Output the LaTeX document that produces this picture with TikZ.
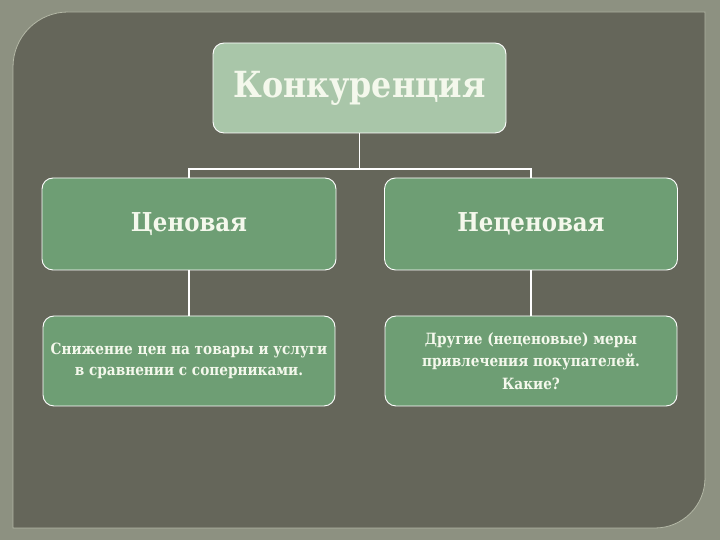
\documentclass[tikz,border=0pt]{standalone}
\usepackage{fontspec}
\setmainfont{DejaVu Serif}[FakeStretch=0.88]
\definecolor{outerbg}{HTML}{8D9181}
\definecolor{panelbg}{HTML}{65665A}
\definecolor{paneledge}{HTML}{B4B8A6}
\definecolor{topfill}{HTML}{A9C6A9}
\definecolor{boxfill}{HTML}{6E9E74}
\definecolor{txt}{HTML}{F4F8EC}
\begin{document}
\begin{tikzpicture}[x=1pt,y=1pt]
\tikzset{
  box/.style={draw=white, line width=0.9pt, rounded corners=11pt, fill=boxfill,
    inner sep=0pt, align=center, text=txt, font=\bfseries},
  conn/.style={draw=white, line width=1.6pt}
}
\fill[outerbg] (0,0) rectangle (720,540);
\useasboundingbox (0,0) rectangle (720,540);
\fill[panelbg, draw=paneledge, line width=0.8pt]
  (13,12) -- (13,473) arc[start angle=180, end angle=90, radius=55]
  -- (705,528) -- (705,62) arc[start angle=0, end angle=-90, radius=50] -- cycle;
\node[box, fill=topfill, minimum width=293pt, minimum height=90pt,
  font=\bfseries\fontsize{36}{40}\selectfont] (top) at (359.5,452) {Конкуренция};
\node[box, minimum width=294pt, minimum height=92pt,
  font=\bfseries\fontsize{26}{31}\selectfont] (midL) at (189,316) {Ценовая};
\node[box, minimum width=293pt, minimum height=92pt,
  font=\bfseries\fontsize{26}{31}\selectfont] (midR) at (531,316) {Неценовая};
\node[box, minimum width=292pt, minimum height=90pt,
  font=\bfseries\fontsize{15.5}{21.5}\selectfont] (botL) at (189,179)
  {Снижение цен на товары и услуги\\в сравнении с соперниками.};
\node[box, minimum width=292pt, minimum height=90pt,
  font=\bfseries\fontsize{15.5}{22.5}\selectfont] (botR) at (531,179)
  {Другие (неценовые) меры\\привлечения покупателей.\\Какие?};
\coordinate (bar) at (359.5,371);
\draw[conn] (top.south) -- (bar);
\draw[conn] (midL.north) |- (bar) -| (midR.north);
\draw[conn] (midL.south) -- (botL.north);
\draw[conn] (midR.south) -- (botR.north);
\end{tikzpicture}
\end{document}
